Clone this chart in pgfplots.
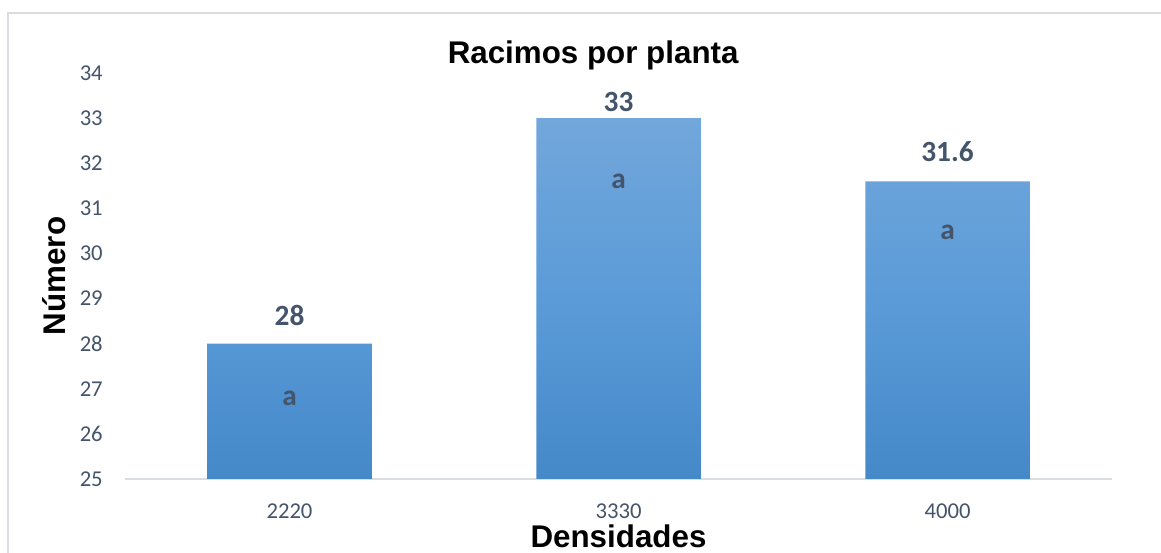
\documentclass[border=0pt]{standalone}
\usepackage{fontspec}
\setmainfont{Carlito}
\newfontfamily\arialfont{Liberation Sans}
\usepackage{pgfplots}
\pgfplotsset{compat=1.18}
\usepackage{pgfplotstable}

\definecolor{labelgray}{HTML}{44546A}
\definecolor{framegray}{HTML}{D9DCE1}
\definecolor{bartop}{HTML}{72A7DB}
\definecolor{barmid}{HTML}{5B9BD8}
\definecolor{barbot}{HTML}{4589C9}

% density (position), bunches per plant, label lift
\pgfplotstableread{
x y dy
0 28 13.5
1 33 5.25
2 31.6 15
}\racimos

\begin{document}
\begin{tikzpicture}
\useasboundingbox (-93.75pt,-55.5pt) rectangle (777pt,359.25pt);
\begin{scope}
  \clip (-93.75pt,-55.5pt) rectangle (777pt,359.25pt);
  \draw[framegray, line width=1.1pt] (-87.75pt,-80pt) rectangle (800pt,349.5pt);
\end{scope}
\begin{axis}[
  at={(0,0)}, anchor=south west,
  scale only axis, width=740.25pt, height=304.5pt,
  xmin=-0.5, xmax=2.5, ymin=25, ymax=34,
  ybar, bar width=0.5,
  axis x line*=bottom, axis y line*=left,
  x axis line style={draw=framegray, line width=1.1pt, -},
  y axis line style={draw=none},
  tick style={draw=none}, major tick length=0pt,
  /pgf/number format/assume math mode=true,
  ytick={25,...,34},
  xtick={0,1,2}, xticklabels={2220,3330,4000},
  ticklabel style={font=\fontsize{17}{17}\selectfont, text=labelgray},
  yticklabel style={anchor=east, inner sep=0pt, xshift=-16.5pt},
  xticklabel style={anchor=base, inner sep=0pt, yshift=-29.25pt},
  every axis title/.style={at={(axis description cs:0.5,1)}, anchor=base,
    xshift=-19pt, yshift=6.75pt, inner sep=0pt,
    font=\arialfont\bfseries\fontsize{23.5}{23.5}\selectfont},
  title={Racimos por planta},
  every axis x label/.style={at={(axis description cs:0.5,0)}, anchor=base,
    yshift=-51pt, inner sep=0pt,
    font=\arialfont\bfseries\fontsize{23.5}{23.5}\selectfont},
  xlabel={Densidades},
  every axis y label/.style={at={([xshift=-53.25pt]axis description cs:0,0.5)},
    anchor=center, rotate=90, inner sep=0pt,
    font=\arialfont\bfseries\fontsize{23.5}{23.5}\selectfont},
  ylabel={Número},
  nodes near coords={\pgfmathprintnumber{\pgfplotspointmeta}},
  visualization depends on={\thisrow{dy} \as \dy},
  every node near coord/.append style={anchor=base, inner sep=0pt,
    yshift=\dy pt, text=labelgray,
    font=\bfseries\fontsize{22}{22}\selectfont},
]
\addplot[draw=none, top color=bartop, bottom color=barbot, middle color=barmid]
  table[x=x, y=y] {\racimos};

% significance letters
\node[anchor=base, text=labelgray, font=\bfseries\fontsize{22}{22}\selectfont] at (axis cs:0,26.64) {a};
\node[anchor=base, text=labelgray, font=\bfseries\fontsize{22}{22}\selectfont] at (axis cs:1,31.43) {a};
\node[anchor=base, text=labelgray, font=\bfseries\fontsize{22}{22}\selectfont] at (axis cs:2,30.32) {a};
\end{axis}
\end{tikzpicture}
\end{document}
